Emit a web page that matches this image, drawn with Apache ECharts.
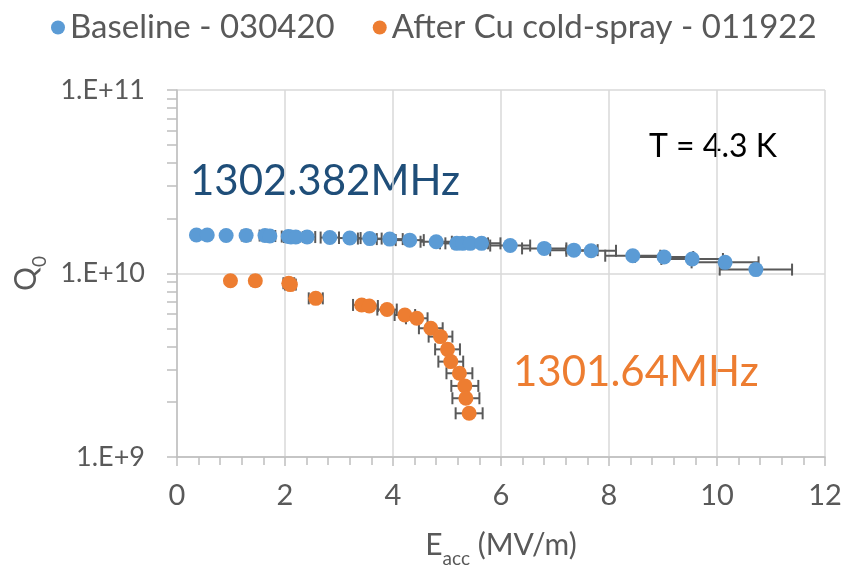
<!DOCTYPE html>
<html>
<head>
<meta charset="utf-8">
<script src="https://cdn.jsdelivr.net/npm/echarts@6/dist/echarts.min.js"></script>
<style>
  html, body { margin: 0; padding: 0; background: #fff; }
  #chart { width: 842px; height: 568px; }
</style>
</head>
<body>
<div id="chart"></div>
<script>
// Baseline - 030420: Eacc (MV/m), Q0, horizontal error (MV/m)
const baselineE = [0.36, 0.56, 0.91, 1.28, 1.63, 1.72, 2.06, 2.11, 2.20, 2.41, 2.83, 3.20, 3.57, 3.94, 4.31,
  4.80, 5.18, 5.29, 5.43, 5.64, 6.17, 6.80, 7.35, 7.67, 8.44, 9.02, 9.54, 10.15, 10.72]
const baselineQ = [1.62e10, 1.62e10, 1.61e10, 1.61e10, 1.61e10, 1.60e10, 1.59e10, 1.58e10, 1.58e10, 1.58e10,
  1.57e10, 1.56e10, 1.55e10, 1.54e10, 1.52e10, 1.49e10, 1.46e10, 1.46e10, 1.46e10, 1.46e10,
  1.42e10, 1.37e10, 1.34e10, 1.33e10, 1.25e10, 1.23e10, 1.20e10, 1.15e10, 1.05e10]
const baselineErr = [0.02, 0.03, 0.05, 0.08, 0.1, 0.1, 0.12, 0.13, 0.13, 0.15, 0.17, 0.2, 0.22, 0.24, 0.26,
  0.29, 0.31, 0.32, 0.33, 0.35, 0.37, 0.41, 0.44, 0.46, 0.51, 0.54, 0.57, 0.62, 0.67]

// After Cu cold-spray - 011922
const sprayE = [0.99, 1.45, 2.07, 2.10, 2.57, 3.42, 3.56, 3.89, 4.22, 4.44, 4.70, 4.88, 5.01, 5.07, 5.23, 5.33, 5.35, 5.41]
const sprayQ = [9.13e9, 9.13e9, 8.85e9, 8.7e9, 7.32e9, 6.74e9, 6.65e9, 6.36e9, 5.94e9, 5.70e9, 5.03e9, 4.53e9,
  3.86e9, 3.31e9, 2.86e9, 2.44e9, 2.09e9, 1.73e9]
const sprayErr = [0.05, 0.07, 0.1, 0.1, 0.13, 0.16, 0.16, 0.18, 0.19, 0.2, 0.22, 0.22, 0.23, 0.23, 0.24, 0.25, 0.25, 0.25]

const xTicks = [0, 2, 4, 6, 8, 10, 12]
const yMinorTicks = [1e9, 2e9, 3e9, 4e9, 5e9, 6e9, 7e9, 8e9, 9e9, 1e10, 2e10, 3e10, 4e10, 5e10, 6e10, 7e10, 8e10, 9e10, 1e11]

const FONT = 'Lato'
const TEXT_GRAY = '#595959'
const BLUE = '#5B9BD5'
const ORANGE = '#ED7D31'

const pairs = (xs, ys, errs) => xs.map((x, i) => [x, ys[i], errs[i]])

const errorBars = (api) => {
  const x = api.value(0)
  const y = api.value(1)
  const e = api.value(2)
  const left = api.coord([x - e, y])
  const right = api.coord([x + e, y])
  const cap = 6
  const style = { stroke: '#595959', lineWidth: 2 }
  return {
    type: 'group',
    children: [
      { type: 'line', shape: { x1: left[0], y1: left[1], x2: right[0], y2: right[1] }, style },
      { type: 'line', shape: { x1: left[0], y1: left[1] - cap, x2: left[0], y2: left[1] + cap }, style },
      { type: 'line', shape: { x1: right[0], y1: right[1] - cap, x2: right[0], y2: right[1] + cap }, style }
    ]
  }
}

const nameRich = {
  a: { fontFamily: FONT, fontSize: 30, color: TEXT_GRAY, lineHeight: 36, verticalAlign: 'bottom' },
  s: { fontFamily: FONT, fontSize: 19, color: TEXT_GRAY, lineHeight: 28, verticalAlign: 'bottom', padding: [0, 0, -8, 0] }
}

const chart = echarts.init(document.getElementById('chart'))
const option = {
  animation: false,
  textStyle: { fontFamily: FONT },
  legend: {
    data: ['Baseline - 030420', 'After Cu cold-spray - 011922'],
    left: 46,
    top: 6,
    icon: 'circle',
    itemWidth: 14,
    itemHeight: 14,
    itemGap: 38,
    textStyle: { fontFamily: FONT, fontSize: 33, color: TEXT_GRAY }
  },
  grid: { left: 177, right: 17, top: 90, bottom: 111, outerBoundsMode: 'none' },
  xAxis: {
    type: 'value',
    min: 0,
    max: 12,
    interval: 2,
    name: '{a|E}{s|acc}{a| (MV/m)}',
    nameLocation: 'middle',
    nameGap: 67,
    nameTextStyle: { rich: nameRich },
    axisLine: { lineStyle: { color: '#bfbfbf', width: 1.5 } },
    axisTick: { show: true, length: 9, lineStyle: { color: '#bfbfbf', width: 1.5 } },
    minorTick: { show: true, splitNumber: 5, length: 8, lineStyle: { color: '#bfbfbf', width: 1.5 } },
    axisLabel: {
      margin: 24,
      fontFamily: FONT,
      fontSize: 29,
      color: TEXT_GRAY,
      formatter: (v) => xTicks.includes(v) ? String(v) : ''
    },
    splitLine: { show: true, lineStyle: { color: '#d9d9d9', width: 1.5 } }
  },
  yAxis: [{
    type: 'log',
    logBase: 10,
    min: 1e9,
    max: 1e11,
    name: '{a|Q}{s|0}',
    nameLocation: 'middle',
    nameRotate: 90,
    nameGap: 118,
    nameTextStyle: { rich: nameRich },
    axisLine: { show: true, lineStyle: { color: '#bfbfbf', width: 1.5 } },
    axisTick: { show: false },
    axisLabel: {
      margin: 32,
      fontFamily: FONT,
      fontSize: 27,
      color: TEXT_GRAY,
      formatter: (v) => '1.E+' + Math.round(Math.log10(v))
    },
    splitLine: { show: true, lineStyle: { color: '#d9d9d9', width: 1.5 } }
  }, {
    type: 'log',
    logBase: 10,
    min: 1e9,
    max: 1e11,
    position: 'left',
    axisLine: { show: false },
    axisLabel: { show: false },
    splitLine: { show: false },
    axisTick: { show: true, length: 10, customValues: yMinorTicks, lineStyle: { color: '#bfbfbf', width: 1.5 } }
  }],
  graphic: [
    { type: 'text', left: 190, top: 160, style: { text: '1302.382MHz', fontFamily: FONT, fontSize: 42, fill: '#1F4E79' } },
    { type: 'text', left: 513, top: 351, style: { text: '1301.64MHz', fontFamily: FONT, fontSize: 42, fill: ORANGE } },
    { type: 'text', left: 649, top: 131, style: { text: 'T = 4.3 K', fontFamily: FONT, fontSize: 32, fill: '#000' } }
  ],
  series: [
    {
      type: 'custom',
      name: 'baselineErr',
      renderItem: (params, api) => errorBars(api),
      data: pairs(baselineE, baselineQ, baselineErr),
      z: 1,
      silent: true
    },
    {
      type: 'custom',
      name: 'sprayErr',
      renderItem: (params, api) => errorBars(api),
      data: pairs(sprayE, sprayQ, sprayErr),
      z: 1,
      silent: true
    },
    {
      name: 'Baseline - 030420',
      type: 'scatter',
      symbolSize: 15,
      itemStyle: { color: BLUE, opacity: 1 },
      data: baselineE.map((x, i) => [x, baselineQ[i]]),
      z: 3
    },
    {
      name: 'After Cu cold-spray - 011922',
      type: 'scatter',
      symbolSize: 15,
      itemStyle: { color: ORANGE, opacity: 1 },
      data: sprayE.map((x, i) => [x, sprayQ[i]]),
      z: 3
    }
  ]
}
chart.setOption(option)
</script>
</body>
</html>
